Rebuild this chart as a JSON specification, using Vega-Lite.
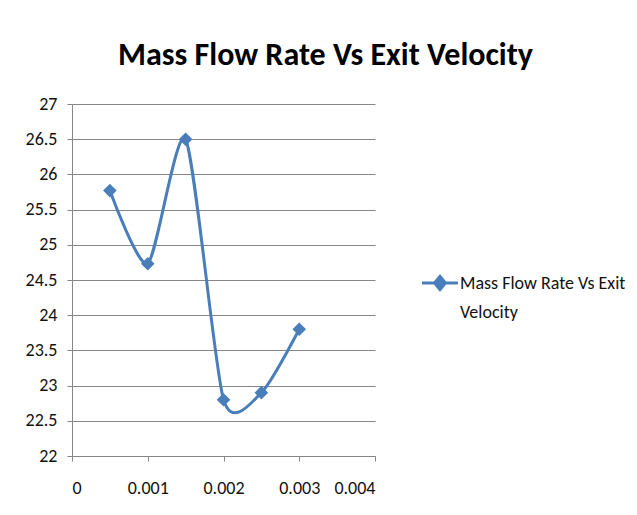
{
  "$schema": "https://vega.github.io/schema/vega-lite/v6.json",
  "autosize": "none",
  "width": 303,
  "height": 352,
  "padding": {"left": 72, "top": 104, "right": 262, "bottom": 59},
  "background": "white",
  "title": {
    "text": "Mass Flow Rate Vs Exit Velocity",
    "font": "Carlito, Lato",
    "fontSize": 32,
    "fontWeight": "bold",
    "color": "#000000",
    "anchor": "middle",
    "dx": 102,
    "offset": 23
  },
  "data": {
    "values": [
      {"rate": 0.0005, "velocity": 25.77, "series": "Mass Flow Rate Vs Exit Velocity"},
      {"rate": 0.001, "velocity": 24.73, "series": "Mass Flow Rate Vs Exit Velocity"},
      {"rate": 0.0015, "velocity": 26.5, "series": "Mass Flow Rate Vs Exit Velocity"},
      {"rate": 0.002, "velocity": 22.8, "series": "Mass Flow Rate Vs Exit Velocity"},
      {"rate": 0.0025, "velocity": 22.9, "series": "Mass Flow Rate Vs Exit Velocity"},
      {"rate": 0.003, "velocity": 23.8, "series": "Mass Flow Rate Vs Exit Velocity"}
    ]
  },
  "encoding": {
    "x": {
      "field": "rate", "type": "quantitative",
      "scale": {"domain": [0, 0.004], "nice": false, "zero": false},
      "axis": {
        "title": null, "values": [0, 0.001, 0.002, 0.003, 0.004],
        "grid": false, "tickSize": 5, "labelPadding": 18,
        "labelExpr": "datum.value == 0 ? '0' : format(datum.value, '.3f')"
      }
    },
    "y": {
      "field": "velocity", "type": "quantitative",
      "scale": {"domain": [22, 27], "nice": false, "zero": false},
      "axis": {
        "title": null, "values": [22, 22.5, 23, 23.5, 24, 24.5, 25, 25.5, 26, 26.5, 27],
        "format": ".1~f",
        "grid": true, "tickSize": 5, "labelPadding": 10
      }
    },
    "color": {
      "field": "series", "type": "nominal",
      "scale": {"range": ["#4a7ebb"]},
      "legend": {
        "title": null,
        "orient": "none",
        "legendX": 348,
        "legendY": 165,
        "symbolType": "M-1,-0.33L1,-0.33M-0.3,-0.33L0,-0.7L0.3,-0.33L0,0.04Z",
        "symbolSize": 1300,
        "symbolStrokeWidth": 3,
        "symbolFillColor": "#4a7ebb",
        "symbolStrokeColor": "#4a7ebb",
        "labelFont": "Carlito, Lato",
        "labelFontSize": 18,
        "labelColor": "#111111",
        "labelOffset": 0,
        "labelLimit": 300,
        "labelBaseline": "alphabetic",
        "labelExpr": "['Mass Flow Rate Vs Exit', 'Velocity']"
      }
    }
  },
  "layer": [
    {"mark": {"type": "line", "interpolate": "cardinal", "tension": 0.3, "strokeWidth": 3}},
    {"mark": {"type": "point", "shape": "diamond", "filled": true, "size": 185, "opacity": 1}}
  ],
  "config": {
    "view": {"stroke": null},
    "style": {"guide-label": {"lineHeight": 29}},
    "axis": {
      "labelFont": "Carlito, Lato",
      "labelFontSize": 18,
      "labelColor": "#111111",
      "domainColor": "#868686",
      "tickColor": "#868686",
      "gridColor": "#868686",
      "domainWidth": 1,
      "gridWidth": 1
    }
  }
}
